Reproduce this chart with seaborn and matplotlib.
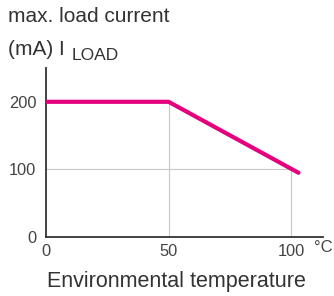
import matplotlib
matplotlib.use("Agg")
import matplotlib.pyplot as plt
import seaborn as sns
import pandas as pd

temperature = [0, 50, 103]
load_current = [200, 200, 95]
x_ticks = [0, 50, 100]
y_ticks = [0, 100, 200]

sns.set_theme(style="white")
plt.rcParams['font.family'] = ['Liberation Sans', 'DejaVu Sans']

df = pd.DataFrame({"temp": temperature, "current": load_current})

fig = plt.figure(figsize=(3.34, 2.96), dpi=100)
ax = fig.add_axes([46/334, 1-237/296, (323-46)/334, (237-68)/296])

grey = "#333333"
light = "#c8c8c8"
# guide lines below the curve
ax.vlines(temperature[1], 0, load_current[1], color=light, lw=0.8, zorder=1)
ax.vlines(x_ticks[2], 0, y_ticks[1], color=light, lw=0.8, zorder=1)
ax.hlines(y_ticks[1], 0, x_ticks[2], color=light, lw=0.8, zorder=1)

sns.lineplot(data=df, x="temp", y="current", ax=ax, color="#E5007D", lw=3.0,
             solid_capstyle="round", zorder=3)

ax.set_xlim(0, 113)
ax.set_ylim(0, 250)
ax.set_xticks(x_ticks)
ax.set_yticks(y_ticks)
ax.set_xlabel("")
ax.set_ylabel("")
for s in ["top", "right"]:
    ax.spines[s].set_visible(False)
for s in ["left", "bottom"]:
    ax.spines[s].set_color(grey)
    ax.spines[s].set_linewidth(1.3)
ax.tick_params(axis="both", colors=light, labelcolor="#444444", labelsize=11.8,
               length=4, width=0.8, direction="out")
ax.tick_params(axis="y", pad=3)
ax.tick_params(axis="x", pad=1)
for i, t in enumerate(ax.xaxis.get_major_ticks()):
    if i == 0:
        t.tick1line.set_color(grey)
    else:
        t.tick1line.set_visible(False)
ax.yaxis.get_major_ticks()[0].tick1line.set_color(grey)

fig.text(8/334, 1-17/296, "max. load current", fontsize=15, color="#333333",
         va="center", ha="left")
fig.text(8/334, 1-55/296, "(mA) I", fontsize=15, color="#333333",
         va="baseline", ha="left")
fig.text(72/334, 1-60/296, "LOAD", fontsize=12.5, color="#333333",
         va="baseline", ha="left")
fig.text(314/334, 1-248/296, "°C", fontsize=12, color="#444444", va="center", ha="left")
fig.text(176/334, 1-282/296, "Environmental temperature", fontsize=15.5, color="#333333",
         va="center", ha="center")

fig.savefig("out.png", dpi=100)
